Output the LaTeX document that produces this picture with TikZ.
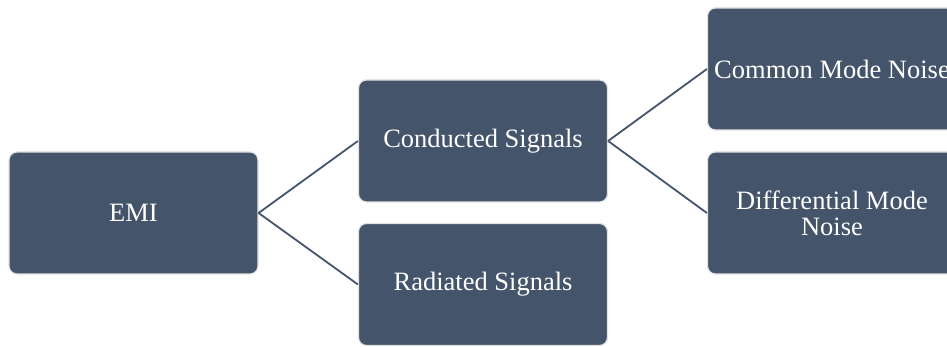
\documentclass[tikz,border=0pt]{standalone}
\usepackage{fontspec}
\setmainfont{Liberation Serif}
\usepackage{xcolor}
\usetikzlibrary{positioning, calc}

\definecolor{slate}{HTML}{44546A}
\definecolor{rim}{HTML}{E2E2E2}

\tikzset{
  blockbox/.style={draw=rim, line width=1.2pt, fill=slate, rounded corners=8pt,
    minimum width=249pt, minimum height=122pt, text=white, align=center,
    font=\fontsize{26.5}{26}\selectfont, inner sep=0pt},
  branch/.style={draw=slate, line width=1.8pt}
}

\begin{document}
\begin{tikzpicture}[x=1pt, y=1pt]
      \def\colA{133.5}
      \def\colB{483}
      \def\colC{832}

      \useasboundingbox (0,0) rectangle (947,347);

      % BLOCKS
      \node[blockbox] (emi) at (\colA,134) {EMI};
      \node[blockbox] (cond) at (\colB,206) {Conducted Signals};
      \node[blockbox] (rad) at (\colB,62.5) {Radiated Signals};
      \node[blockbox] (cmn) at (\colC,278) {Common Mode Noise};
      \node[blockbox] (dmn) at (\colC,134) {Differential Mode\\Noise};

      % LINKS
      \draw[branch] (emi.east) -- (cond.west);
      \draw[branch] (emi.east) -- (rad.west);
      \draw[branch] (cond.east) -- (cmn.west);
      \draw[branch] (cond.east) -- (dmn.west);
    \end{tikzpicture}
\end{document}
